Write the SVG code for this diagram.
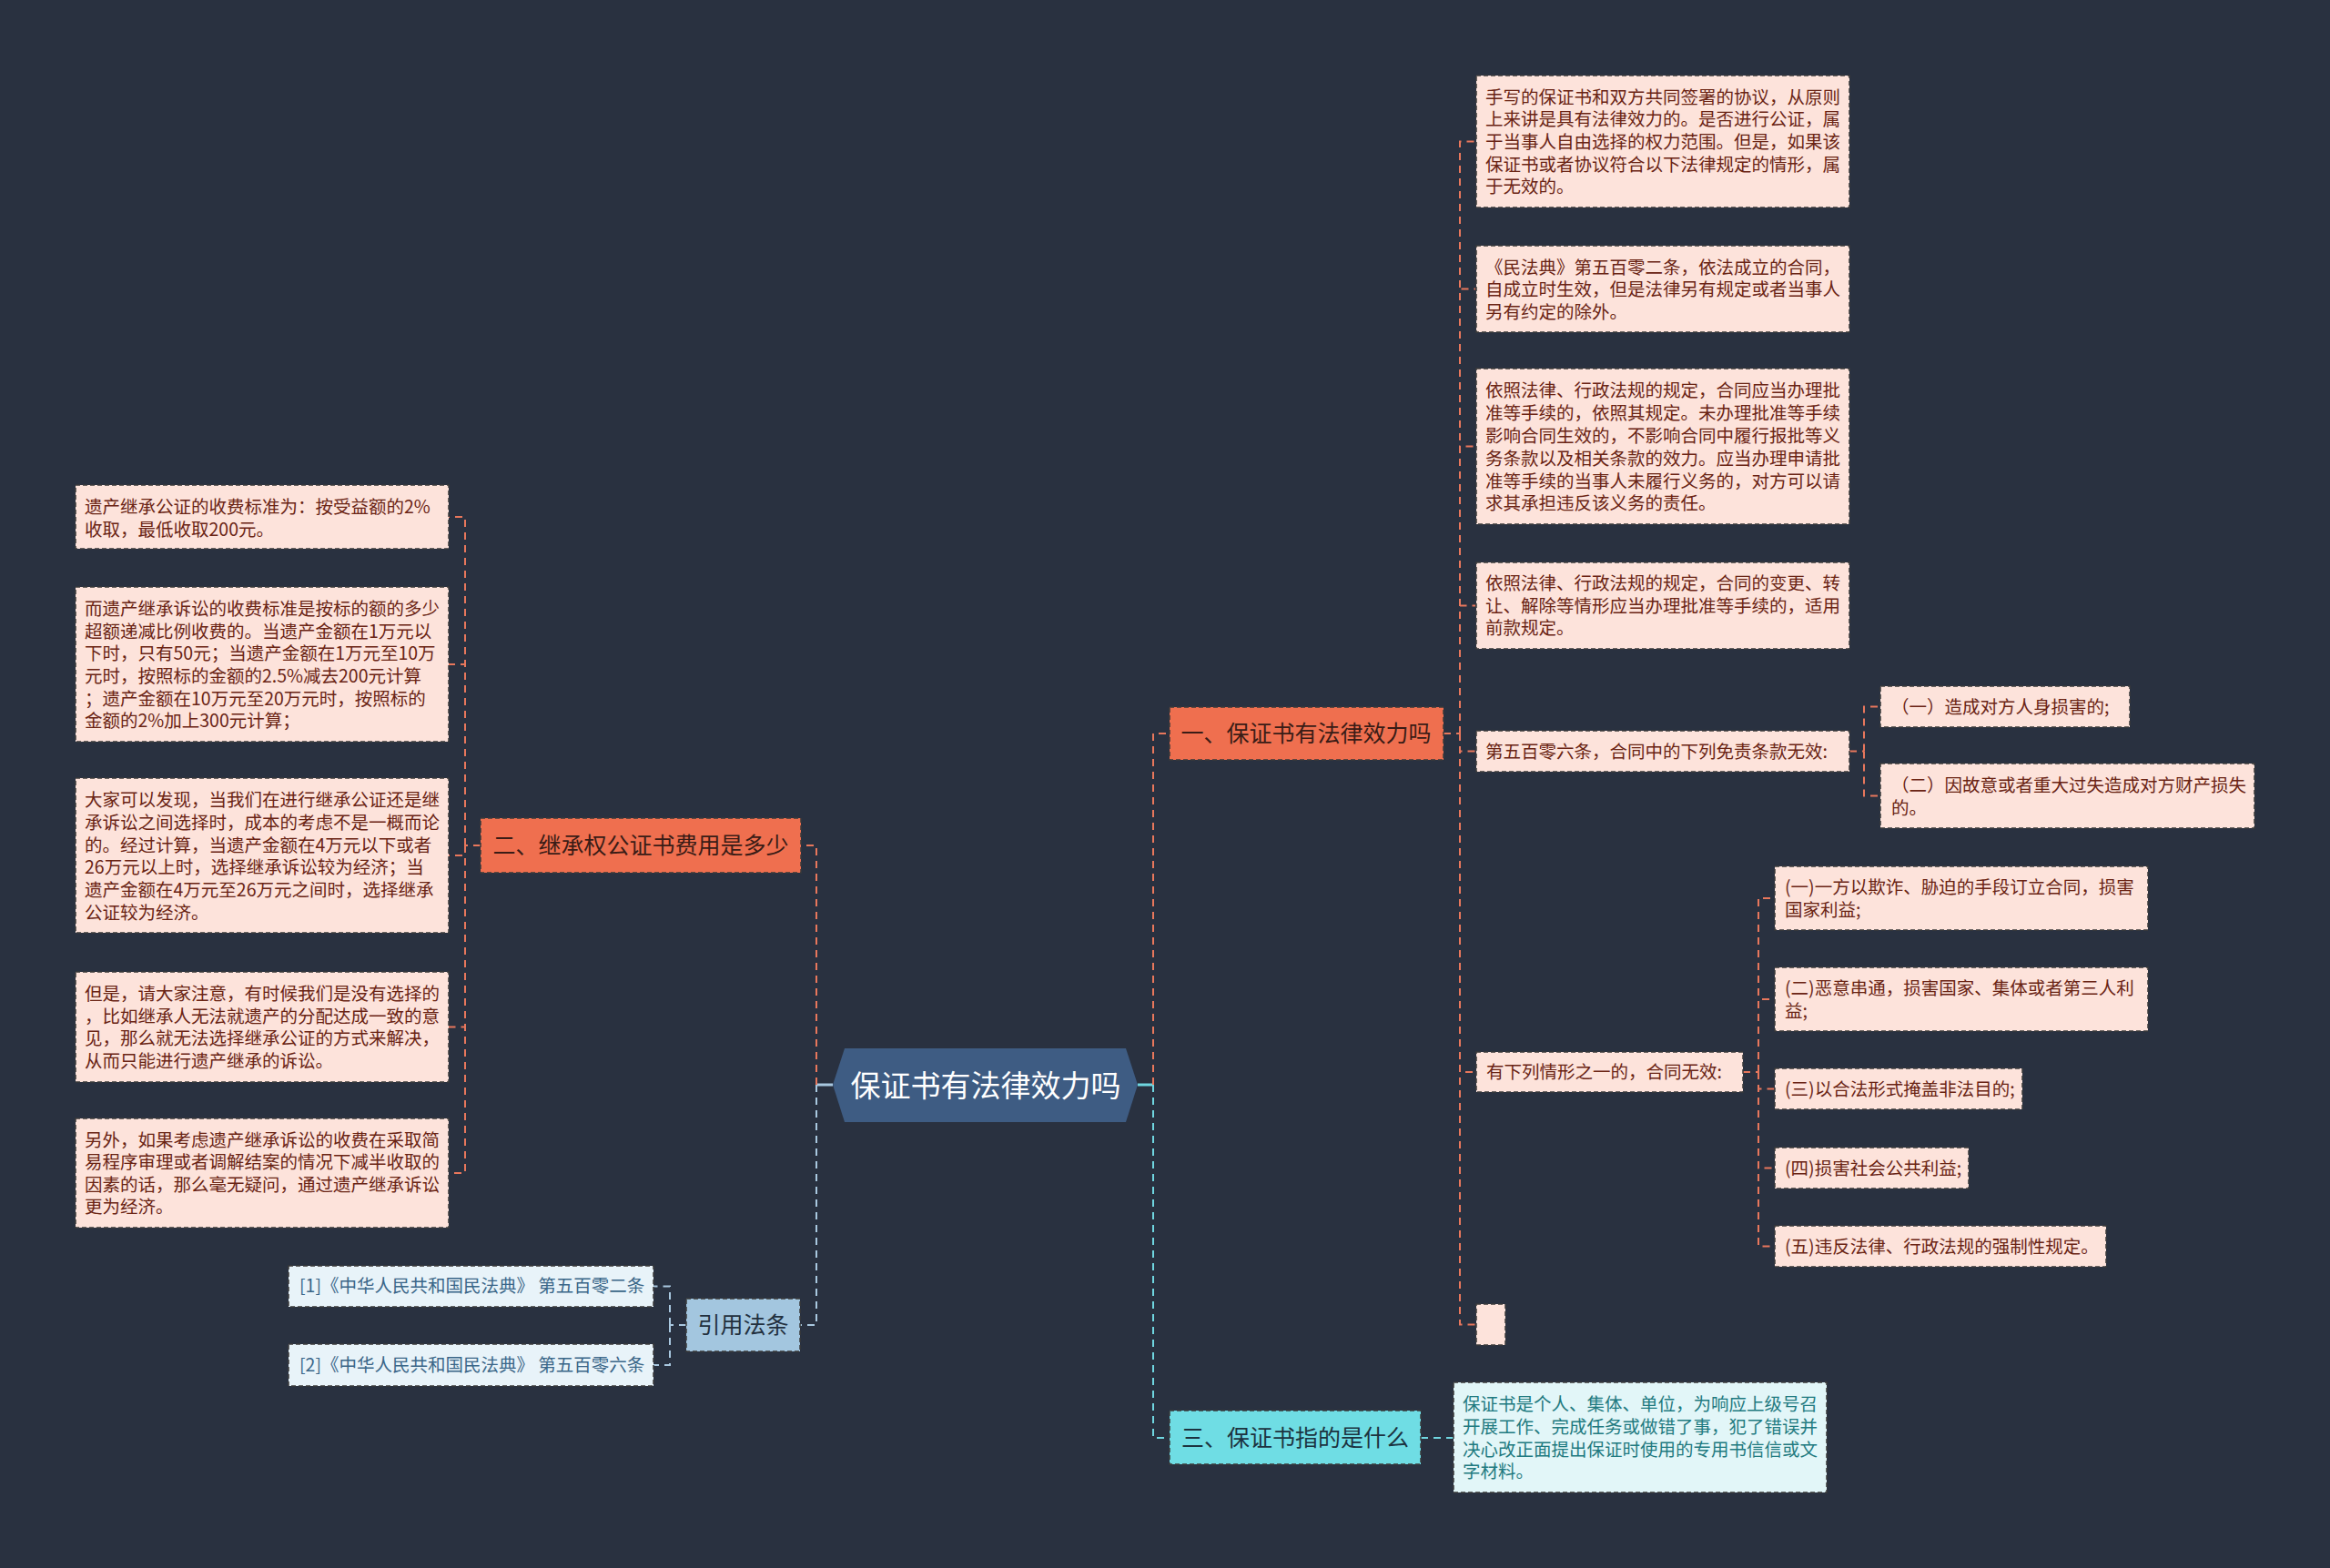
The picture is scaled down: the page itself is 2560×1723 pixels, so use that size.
<svg xmlns="http://www.w3.org/2000/svg" width="2560" height="1723" viewBox="0 0 2560 1723">
<style>
text{font-family:"Noto Sans CJK SC","Noto Sans",sans-serif;dominant-baseline:central;transform:translateY(-2px)}
.leaf{fill:#fde3db;stroke:#3a3a3a;stroke-width:1.5;stroke-dasharray:5 3}
.lt{font-size:19.5px;fill:#6a2414}
.l1{fill:#ef6f4f;stroke:#3a3a3a;stroke-width:1.5;stroke-dasharray:5 3}
.l1t{font-size:25px;fill:#3a1c16;text-anchor:middle}
.cy{fill:#6fdde4;stroke:#3a3a3a;stroke-width:1.5;stroke-dasharray:5 3}
.cyt{font-size:25px;fill:#1c3340;text-anchor:middle}
.cyleaf{fill:#e2f6f8;stroke:#3a3a3a;stroke-width:1.5;stroke-dasharray:5 3}
.cylt{font-size:19.5px;fill:#1f7a80}
.bl{fill:#a3c6df;stroke:#3a3a3a;stroke-width:1.5;stroke-dasharray:5 3}
.blt{font-size:25px;fill:#22303e;text-anchor:middle}
.blleaf{fill:#e8f3f9;stroke:#3a3a3a;stroke-width:1.5;stroke-dasharray:5 3}
.bllt{font-size:19.5px;fill:#3a6688}
.co{fill:none;stroke:#e8775c;stroke-width:2;stroke-dasharray:8 6}
.cc{fill:none;stroke:#6fd6e0;stroke-width:2;stroke-dasharray:8 6}
.cb{fill:none;stroke:#a9c8e0;stroke-width:2;stroke-dasharray:8 6}
</style>
<rect x="0" y="0" width="2560" height="1723" fill="#293140"/>

<g id="connectors">
  <path d="M1250,1192 H1267" stroke="#6fd6e0" stroke-width="3" fill="none"/>
  <path d="M915,1192 H897" stroke="#a9c8e0" stroke-width="3" fill="none"/>
  <path class="co" d="M1267,1192 V806 H1285"/>
  <path class="cc" d="M1267,1192 V1580 H1285"/>
  <path class="cc" d="M1561,1580 H1597"/>
  <path class="co" d="M897,1192 V929 H880"/>
  <path class="cb" d="M897,1192 V1456 H879"/>
  <!-- branch 一 -->
  <path class="co" d="M1586,806 H1604"/>
  <path class="co" d="M1604,806 V155.5 H1621"/>
  <path class="co" d="M1604,806 V317.5 H1621"/>
  <path class="co" d="M1604,806 V490.5 H1621"/>
  <path class="co" d="M1604,806 V665.5 H1621"/>
  <path class="co" d="M1604,806 V825.5 H1621"/>
  <path class="co" d="M1604,806 V1178 H1621"/>
  <path class="co" d="M1604,806 V1455.5 H1621"/>
  <path class="co" d="M2032,825.5 H2048"/>
  <path class="co" d="M2048,825.5 V776.5 H2066"/>
  <path class="co" d="M2048,825.5 V874.5 H2066"/>
  <path class="co" d="M1915,1178 H1932"/>
  <path class="co" d="M1932,1178 V987 H1950"/>
  <path class="co" d="M1932,1178 V1098 H1950"/>
  <path class="co" d="M1932,1178 V1196.5 H1950"/>
  <path class="co" d="M1932,1178 V1283.5 H1950"/>
  <path class="co" d="M1932,1178 V1369.5 H1950"/>
  <!-- branch 二 -->
  <path class="co" d="M528,929 H511"/>
  <path class="co" d="M511,929 V568 H493"/>
  <path class="co" d="M511,929 V730 H493"/>
  <path class="co" d="M511,929 V940 H493"/>
  <path class="co" d="M511,929 V1128.5 H493"/>
  <path class="co" d="M511,929 V1289 H493"/>
  <!-- 引用法条 -->
  <path class="cb" d="M754,1456 H736"/>
  <path class="cb" d="M736,1456 V1413.5 H718"/>
  <path class="cb" d="M736,1456 V1500 H718"/>
</g>

<g id="center">
  <polygon points="915,1192 928,1152 1237,1152 1250,1192 1237,1233 928,1233" fill="#3e5c83"/>
  <text x="1083" y="1193" font-size="33" fill="#ffffff" text-anchor="middle">保证书有法律效力吗</text>
</g>

<g id="n1">
  <rect class="l1" x="1285" y="777" width="301" height="58"/>
  <text class="l1t" x="1435" y="806">一、保证书有法律效力吗</text>
</g>
<g id="n1a">
  <rect class="leaf" x="1622" y="83" width="410" height="145"/>
  <text class="lt" x="1632" y="107">手写的保证书和双方共同签署的协议，从原则</text>
  <text class="lt" x="1632" y="131.5">上来讲是具有法律效力的。是否进行公证，属</text>
  <text class="lt" x="1632" y="156">于当事人自由选择的权力范围。但是，如果该</text>
  <text class="lt" x="1632" y="181">保证书或者协议符合以下法律规定的情形，属</text>
  <text class="lt" x="1632" y="205.5">于无效的。</text>
</g>
<g id="n1b">
  <rect class="leaf" x="1622" y="270" width="410" height="95"/>
  <text class="lt" x="1632" y="294">《民法典》第五百零二条，依法成立的合同，</text>
  <text class="lt" x="1632" y="318.5">自成立时生效，但是法律另有规定或者当事人</text>
  <text class="lt" x="1632" y="343">另有约定的除外。</text>
</g>
<g id="n1c">
  <rect class="leaf" x="1622" y="405" width="410" height="171"/>
  <text class="lt" x="1632" y="429.5">依照法律、行政法规的规定，合同应当办理批</text>
  <text class="lt" x="1632" y="454.5">准等手续的，依照其规定。未办理批准等手续</text>
  <text class="lt" x="1632" y="479.5">影响合同生效的，不影响合同中履行报批等义</text>
  <text class="lt" x="1632" y="504.5">务条款以及相关条款的效力。应当办理申请批</text>
  <text class="lt" x="1632" y="529">准等手续的当事人未履行义务的，对方可以请</text>
  <text class="lt" x="1632" y="553.5">求其承担违反该义务的责任。</text>
</g>
<g id="n1d">
  <rect class="leaf" x="1622" y="618" width="410" height="95"/>
  <text class="lt" x="1632" y="641">依照法律、行政法规的规定，合同的变更、转</text>
  <text class="lt" x="1632" y="666">让、解除等情形应当办理批准等手续的，适用</text>
  <text class="lt" x="1632" y="690.5">前款规定。</text>
</g>
<g id="n1e">
  <rect class="leaf" x="1622" y="803" width="410" height="45"/>
  <text class="lt" x="1632" y="826">第五百零六条，合同中的下列免责条款无效:</text>
</g>
<g id="n1e1">
  <rect class="leaf" x="2066" y="754" width="274" height="45"/>
  <text class="lt" x="2078" y="777">（一）造成对方人身损害的;</text>
</g>
<g id="n1e2">
  <rect class="leaf" x="2066" y="839" width="411" height="71"/>
  <text class="lt" x="2078" y="863.5">（二）因故意或者重大过失造成对方财产损失</text>
  <text class="lt" x="2078" y="888">的。</text>
</g>
<g id="n1f">
  <rect class="leaf" x="1622" y="1156" width="293" height="44"/>
  <text class="lt" x="1633" y="1178.5">有下列情形之一的，合同无效:</text>
</g>
<g id="n1f1">
  <rect class="leaf" x="1950" y="952" width="410" height="70"/>
  <text class="lt" x="1961" y="975.5">(一)一方以欺诈、胁迫的手段订立合同，损害</text>
  <text class="lt" x="1961" y="1000">国家利益;</text>
</g>
<g id="n1f2">
  <rect class="leaf" x="1950" y="1063" width="410" height="70"/>
  <text class="lt" x="1961" y="1086.5">(二)恶意串通，损害国家、集体或者第三人利</text>
  <text class="lt" x="1961" y="1111">益;</text>
</g>
<g id="n1f3">
  <rect class="leaf" x="1950" y="1174" width="272" height="45"/>
  <text class="lt" x="1961" y="1197">(三)以合法形式掩盖非法目的;</text>
</g>
<g id="n1f4">
  <rect class="leaf" x="1950" y="1261" width="213" height="45"/>
  <text class="lt" x="1961" y="1284">(四)损害社会公共利益;</text>
</g>
<g id="n1f5">
  <rect class="leaf" x="1950" y="1347" width="364" height="45"/>
  <text class="lt" x="1961" y="1370">(五)违反法律、行政法规的强制性规定。</text>
</g>
<g id="n1g">
  <rect class="leaf" x="1622" y="1433" width="32" height="45"/>
</g>

<g id="n3">
  <rect class="cy" x="1285" y="1550" width="276" height="59"/>
  <text class="cyt" x="1423" y="1580">三、保证书指的是什么</text>
</g>
<g id="n3a">
  <rect class="cyleaf" x="1597" y="1519" width="410" height="121"/>
  <text class="cylt" x="1607" y="1543">保证书是个人、集体、单位，为响应上级号召</text>
  <text class="cylt" x="1607" y="1568">开展工作、完成任务或做错了事，犯了错误并</text>
  <text class="cylt" x="1607" y="1593">决心改正面提出保证时使用的专用书信信或文</text>
  <text class="cylt" x="1607" y="1617.5">字材料。</text>
</g>

<g id="n2">
  <rect class="l1" x="528" y="899" width="352" height="60"/>
  <text class="l1t" x="704" y="929">二、继承权公证书费用是多少</text>
</g>
<g id="n2a">
  <rect class="leaf" x="83" y="533" width="410" height="70"/>
  <text class="lt" x="93" y="557.5">遗产继承公证的收费标准为：按受益额的2%</text>
  <text class="lt" x="93" y="582">收取，最低收取200元。</text>
</g>
<g id="n2b">
  <rect class="leaf" x="83" y="645" width="410" height="170"/>
  <text class="lt" x="93" y="669">而遗产继承诉讼的收费标准是按标的额的多少</text>
  <text class="lt" x="93" y="694">超额递减比例收费的。当遗产金额在1万元以</text>
  <text class="lt" x="93" y="718.5">下时，只有50元；当遗产金额在1万元至10万</text>
  <text class="lt" x="93" y="743">元时，按照标的金额的2.5%减去200元计算</text>
  <text class="lt" x="93" y="768">；遗产金额在10万元至20万元时，按照标的</text>
  <text class="lt" x="93" y="792.5">金额的2%加上300元计算；</text>
</g>
<g id="n2c">
  <rect class="leaf" x="83" y="855" width="410" height="170"/>
  <text class="lt" x="93" y="879.5">大家可以发现，当我们在进行继承公证还是继</text>
  <text class="lt" x="93" y="904">承诉讼之间选择时，成本的考虑不是一概而论</text>
  <text class="lt" x="93" y="929">的。经过计算，当遗产金额在4万元以下或者</text>
  <text class="lt" x="93" y="953.5">26万元以上时，选择继承诉讼较为经济；当</text>
  <text class="lt" x="93" y="978">遗产金额在4万元至26万元之间时，选择继承</text>
  <text class="lt" x="93" y="1003">公证较为经济。</text>
</g>
<g id="n2d">
  <rect class="leaf" x="83" y="1068" width="410" height="121"/>
  <text class="lt" x="93" y="1092.5">但是，请大家注意，有时候我们是没有选择的</text>
  <text class="lt" x="93" y="1117">，比如继承人无法就遗产的分配达成一致的意</text>
  <text class="lt" x="93" y="1141.5">见，那么就无法选择继承公证的方式来解决，</text>
  <text class="lt" x="93" y="1166">从而只能进行遗产继承的诉讼。</text>
</g>
<g id="n2e">
  <rect class="leaf" x="83" y="1229" width="410" height="120"/>
  <text class="lt" x="93" y="1253">另外，如果考虑遗产继承诉讼的收费在采取简</text>
  <text class="lt" x="93" y="1277.5">易程序审理或者调解结案的情况下减半收取的</text>
  <text class="lt" x="93" y="1302">因素的话，那么毫无疑问，通过遗产继承诉讼</text>
  <text class="lt" x="93" y="1326.5">更为经济。</text>
</g>

<g id="n4">
  <rect class="bl" x="754" y="1427" width="125" height="58"/>
  <text class="blt" x="816.5" y="1456">引用法条</text>
</g>
<g id="n4a">
  <rect class="blleaf" x="317" y="1391" width="401" height="45"/>
  <text class="bllt" x="329" y="1413.5">[1]《中华人民共和国民法典》 第五百零二条</text>
</g>
<g id="n4b">
  <rect class="blleaf" x="317" y="1477" width="401" height="46"/>
  <text class="bllt" x="329" y="1500">[2]《中华人民共和国民法典》 第五百零六条</text>
</g>
</svg>
